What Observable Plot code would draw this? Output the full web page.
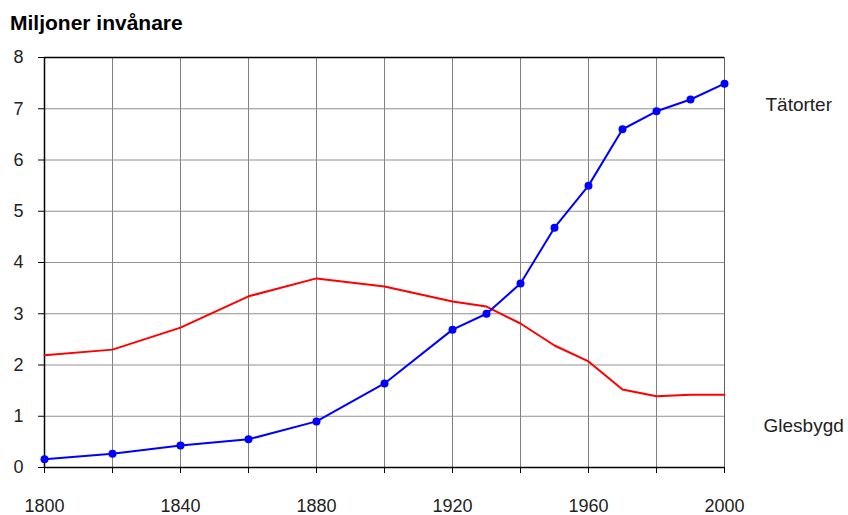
<!DOCTYPE html>
<html><head><meta charset="utf-8">
<script src="https://cdn.jsdelivr.net/npm/d3@7"></script>
<script src="https://cdn.jsdelivr.net/npm/@observablehq/plot@0.6"></script>
<style>
body{margin:0;background:#fff;font-family:"Liberation Sans",Arial,sans-serif;}
#wrap{position:relative;width:848px;height:515px;}
#title{position:absolute;left:10px;top:12px;font-size:21px;line-height:21px;font-weight:bold;color:#000;}
#chart{position:absolute;left:0;top:0;}
</style></head><body>
<div id="wrap"><div id="chart"></div><div id="title">Miljoner invånare</div></div>
<script>
const years = [1800,1820,1840,1860,1880,1900,1920,1930,1940,1950,1960,1970,1980,1990,2000];
const tatorter = [0.16,0.27,0.43,0.55,0.90,1.64,2.69,3.00,3.59,4.68,5.50,6.60,6.95,7.18,7.49];
const glesbygd = [2.19,2.30,2.73,3.34,3.69,3.53,3.24,3.14,2.81,2.38,2.07,1.52,1.39,1.42,1.42];
const seriesNames = ["Tätorter","Glesbygd"];
const xTicks = [1800,1820,1840,1860,1880,1900,1920,1940,1960,1980,2000];
const yTicks = [0,1,2,3,4,5,6,7,8];

const tRows = years.map((y,i)=>({year:y,value:tatorter[i]}));
const gRows = years.map((y,i)=>({year:y,value:glesbygd[i]}));

const chart = Plot.plot({
  width:848, height:515,
  marginLeft:44, marginRight:124, marginTop:57, marginBottom:48,
  style:{fontFamily:"'Liberation Sans', Arial, sans-serif", fontSize:"18px", color:"#222", background:"#fff"},
  x:{domain:[1800,2000]},
  y:{domain:[0,8]},
  marks:[
    Plot.gridX(xTicks,{stroke:"#808080",strokeOpacity:1,strokeWidth:1}),
    Plot.gridY(yTicks,{stroke:"#909090",strokeOpacity:1,strokeWidth:1}),
    Plot.ruleX([2000],{stroke:"#606060",strokeWidth:1}),
    Plot.ruleY([8],{stroke:"#000",strokeWidth:1.5}),
    Plot.ruleY([0],{stroke:"#000",strokeWidth:1.5}),
    Plot.ruleX([1800],{stroke:"#000",strokeWidth:1.5}),
    Plot.axisX(xTicks,{tickSize:6,tickPadding:26,tickFormat:d=>d%40===0?String(d):"",label:null,fontSize:18,stroke:"#000"}),
    Plot.axisY(yTicks,{tickSize:6,tickPadding:15,tickFormat:d=>String(d),label:null,fontSize:18,stroke:"#000"}),
    Plot.line(gRows,{x:"year",y:"value",stroke:"#ff0000",strokeWidth:2}),
    Plot.line(tRows,{x:"year",y:"value",stroke:"#0000ff",strokeWidth:2}),
    Plot.dot(tRows,{x:"year",y:"value",fill:"#0000ff",r:4}),
    Plot.text([seriesNames[0]],{x:2000,y:7.08,text:d=>d,dx:41,textAnchor:"start",fontSize:19,fill:"#222"}),
    Plot.text([seriesNames[1]],{x:2000,y:0.82,text:d=>d,dx:39,textAnchor:"start",fontSize:19,fill:"#222"})
  ]
});
document.getElementById("chart").appendChild(chart);
</script>
</body></html>
